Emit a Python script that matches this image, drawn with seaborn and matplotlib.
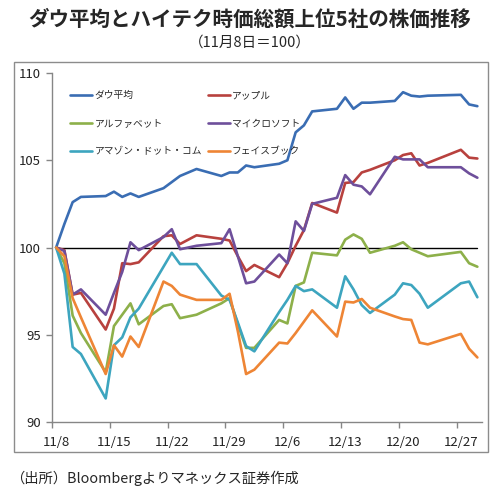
import matplotlib
matplotlib.use('Agg')
import matplotlib.pyplot as plt
from matplotlib.patches import Rectangle
import seaborn as sns
import pandas as pd

# trading days, 11/8 = 100
dates = ["2016-11-08", "2016-11-09", "2016-11-10", "2016-11-11", "2016-11-14", "2016-11-15",
         "2016-11-16", "2016-11-17", "2016-11-18", "2016-11-21", "2016-11-22", "2016-11-23",
         "2016-11-25", "2016-11-28", "2016-11-29", "2016-11-30", "2016-12-01", "2016-12-02",
         "2016-12-05", "2016-12-06", "2016-12-07", "2016-12-08", "2016-12-09", "2016-12-12",
         "2016-12-13", "2016-12-14", "2016-12-15", "2016-12-16", "2016-12-19", "2016-12-20",
         "2016-12-21", "2016-12-22", "2016-12-23", "2016-12-27", "2016-12-28", "2016-12-29"]

dow = [100, 101.35, 102.6, 102.9, 102.95, 103.2, 102.9, 103.1, 102.9, 103.4, 103.75, 104.1,
       104.5, 104.1, 104.3, 104.3, 104.7, 104.6, 104.8, 105.0, 106.6, 107.0, 107.8, 107.95,
       108.6, 107.95, 108.3, 108.3, 108.4, 108.9, 108.7, 108.65, 108.7, 108.75, 108.2, 108.1]
apple = [100, 99.85, 97.3, 97.4, 95.3, 96.5, 99.1, 99.05, 99.15, 100.65, 100.7, 100.2,
         100.7, 100.5, 100.4, 99.5, 98.65, 99.0, 98.3, 99.1, 100.1, 101.0, 102.55, 102.0,
         103.7, 103.75, 104.3, 104.45, 105.0, 105.3, 105.4, 104.7, 104.85, 105.6, 105.15, 105.1]
alphabet = [100, 99.1, 96.1, 95.1, 92.85, 95.5, 96.15, 96.8, 95.6, 96.65, 96.75, 95.95,
            96.15, 96.8, 97.1, 95.6, 94.25, 94.25, 95.85, 95.65, 97.8, 98.0, 99.7, 99.55,
            100.45, 100.75, 100.5, 99.7, 100.1, 100.3, 99.9, 99.7, 99.5, 99.75, 99.1, 98.9]
microsoft = [100, 99.8, 97.3, 97.6, 96.15, 97.4, 98.6, 100.3, 99.85, 100.6, 101.05, 99.9,
             100.1, 100.25, 101.05, 99.5, 97.95, 98.05, 99.6, 99.1, 101.5, 100.95, 102.5, 102.85,
             104.15, 103.6, 103.5, 103.05, 105.2, 105.05, 105.05, 105.05, 104.6, 104.6, 104.25, 104.0]
amazon = [100, 98.5, 94.3, 93.9, 91.35, 94.4, 94.85, 96.0, 96.5, 98.9, 99.7, 99.05,
          99.05, 97.25, 97.0, 95.7, 94.35, 94.05, 96.3, 97.0, 97.8, 97.5, 97.6, 96.55,
          98.35, 97.6, 96.7, 96.25, 97.3, 97.95, 97.85, 97.35, 96.55, 97.95, 98.05, 97.15]
facebook = [100, 99.5, 97.1, 96.0, 92.75, 94.4, 93.75, 94.9, 94.3, 98.05, 97.8, 97.3,
            97.0, 97.0, 97.35, 95.2, 92.75, 93.0, 94.55, 94.5, 95.1, 95.75, 96.4, 94.9,
            96.9, 96.85, 97.05, 96.55, 96.05, 95.9, 95.85, 94.55, 94.45, 95.05, 94.2, 93.7]

names = ["ダウ平均", "アップル", "アルファベット", "マイクロソフト", "アマゾン・ドット・コム", "フェイスブック"]
colors = ["#3A6DB3", "#B8413E", "#8DB04A", "#6E4F9B", "#3DA5BF", "#EE8535"]
base_value = 100

tick_dates = ["2016-11-08", "2016-11-15", "2016-11-22", "2016-11-29",
              "2016-12-06", "2016-12-13", "2016-12-20", "2016-12-27"]
tick_labels = ["11/8", "11/15", "11/22", "11/29", "12/6", "12/13", "12/20", "12/27"]
y_ticks = [90, 95, 100, 105, 110]

title = "ダウ平均とハイテク時価総額上位5社の株価推移"
subtitle = "（11月8日＝100）"
source = "（出所）Bloombergよりマネックス証券作成"

sns.set_theme(style="ticks")
plt.rcParams['font.family'] = ['Noto Sans CJK JP', 'DejaVu Sans']

x = pd.to_datetime(dates)
frames = []
for name, vals in zip(names, [dow, apple, alphabet, microsoft, amazon, facebook]):
    frames.append(pd.DataFrame({"date": x, "value": vals, "name": name}))
df = pd.concat(frames, ignore_index=True)

fig = plt.figure(figsize=(5, 4.94), dpi=100)
ax = fig.add_axes([0.104, 0.1457, 0.859, 0.7065])

# 100 reference line
sns.lineplot(x=x, y=[base_value] * len(x), color="black", lw=1, ax=ax)
sns.lineplot(data=df, x="date", y="value", hue="name", hue_order=names,
             palette=colors, lw=1.9, ax=ax)

half_day = pd.Timedelta(hours=12)
ax.set_xlim(x[0] - half_day, x[-1] + half_day)
ax.set_ylim(y_ticks[0], y_ticks[-1])
ax.set_yticks(y_ticks)
ax.set_xticks(pd.to_datetime(tick_dates))
ax.set_xticklabels(tick_labels)
ax.set_xticks(pd.to_datetime(tick_dates) - half_day, minor=True)
ax.set_xlabel("")
ax.set_ylabel("")

sns.despine(ax=ax)
for side in ["left", "bottom"]:
    ax.spines[side].set_color("#868686")
    ax.spines[side].set_linewidth(1)
ax.tick_params(axis="y", length=4, width=1, color="#868686", pad=4, labelsize=9.5, labelcolor="#222222")
ax.tick_params(axis="x", which="major", length=0, pad=10, labelsize=9.5, labelcolor="#222222")
ax.tick_params(axis="x", which="minor", length=4, width=1, color="#868686")

# legend in 3 rows x 2 cols
handles, labels = ax.get_legend_handles_labels()
order = [0, 2, 4, 1, 3, 5]
ax.legend([handles[i] for i in order], [labels[i] for i in order], ncol=2,
          loc="upper left", bbox_to_anchor=(0.042, 0.950), frameon=False,
          fontsize=7, handlelength=2.3, handletextpad=0.2, columnspacing=0.6,
          labelspacing=1.85, borderpad=0, borderaxespad=0)

fig.patches.append(Rectangle((0.027, 0.085), 0.949, 0.7895, transform=fig.transFigure,
                             fill=False, edgecolor="#8c8c8c", lw=1))
fig.text(0.5, 1 - 19 / 494, title, ha="center", va="center", fontsize=14.8, weight="bold")
fig.text(0.5, 1 - 43 / 494, subtitle, ha="center", va="center", fontsize=10.5)
fig.text(10 / 500, 1 - 478 / 494, source, ha="left", va="center", fontsize=10.3)

fig.savefig("out.png", dpi=100)
plt.close()
